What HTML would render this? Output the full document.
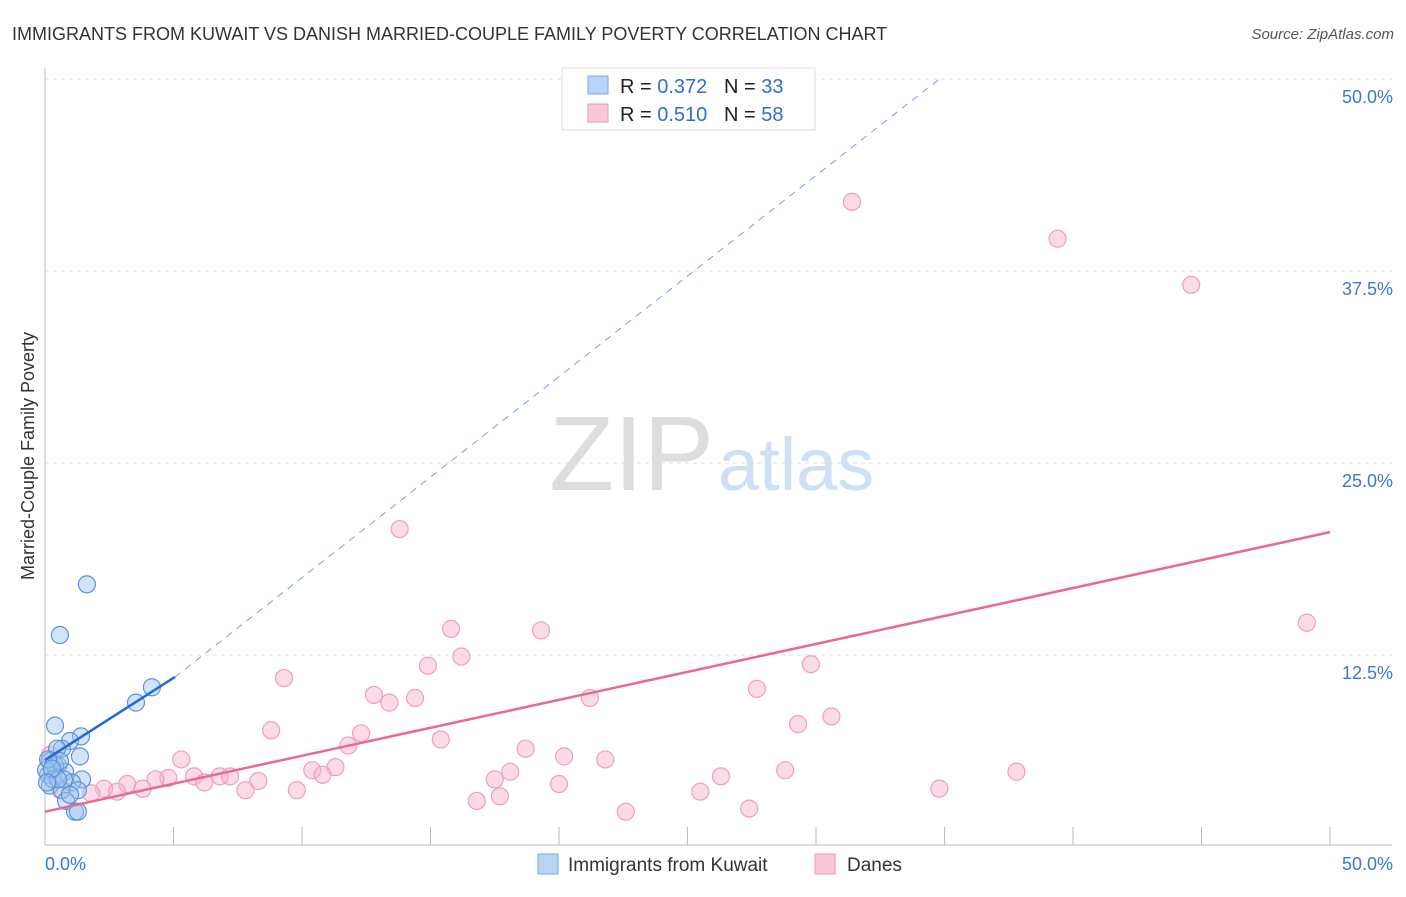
<!DOCTYPE html>
<html><head><meta charset="utf-8"><style>
body{margin:0;background:#fff;font-family:"Liberation Sans",sans-serif;}
svg text{font-family:"Liberation Sans",sans-serif;}
</style></head><body>
<svg id="chart" width="1406" height="892">
<text x="12" y="40" font-size="18" fill="#333">IMMIGRANTS FROM KUWAIT VS DANISH MARRIED-COUPLE FAMILY POVERTY CORRELATION CHART</text>
<text x="1394" y="39" font-size="15" fill="#555" text-anchor="end" font-style="italic">Source: ZipAtlas.com</text>
<text x="714" y="490" font-size="106" fill="#ddd" text-anchor="end" font-family="Liberation Serif">ZIP</text>
<text x="718" y="490" font-size="74" fill="#cfe0f5">atlas</text>
<text transform="translate(34,456) rotate(-90)" font-size="18" fill="#333" text-anchor="middle">Married-Couple Family Poverty</text>
<g id="grid"></g><g id="marks"></g>
<g>
<rect x="562" y="68" width="253" height="62" fill="#fff" stroke="#ddd"/>
<rect x="588" y="76" width="20" height="18" fill="#b8d4f7" stroke="#7aa7e0"/>
<rect x="588" y="104" width="20" height="18" fill="#fac8d6" stroke="#eb9ab2"/>
<text x="620" y="93" font-size="20" fill="#222" xml:space="preserve">R = <tspan fill="#2f6fd0">0.372</tspan>   N = <tspan fill="#2f6fd0">33</tspan></text>
<text x="620" y="121" font-size="20" fill="#222" xml:space="preserve">R = <tspan fill="#2f6fd0">0.510</tspan>   N = <tspan fill="#2f6fd0">58</tspan></text>
</g>
<g>
<rect x="538" y="854" width="20" height="20" fill="#b8d4f7" stroke="#7aa7e0"/>
<text x="568" y="871" font-size="19" fill="#333">Immigrants from Kuwait</text>
<rect x="815" y="854" width="20" height="20" fill="#fac8d6" stroke="#eb9ab2"/>
<text x="847" y="871" font-size="19" fill="#333">Danes</text>
</g>
</svg>
<script>
const blueX=[1.63,0.58,4.16,3.54,0.39,1.40,0.97,0.66,0.47,1.36,0.19,0.51,0.27,0.78,0.12,1.44,1.05,0.19,0.66,1.28,0.82,1.17,1.28,0.39,0.04,0.58,0.12,0.31,0.74,0.97,0.51,0.27,0.08];
const blueY=[17.1,13.8,10.4,9.4,7.9,7.2,6.9,6.4,6.4,5.9,5.6,5.3,5.0,4.9,4.7,4.4,4.2,4.0,3.7,3.7,3.0,2.3,2.3,5.3,5.0,5.6,5.7,4.4,4.4,3.4,4.4,5.1,4.2];
const pinkX=[31.4,39.4,44.6,49.1,13.8,15.8,19.3,16.2,14.9,9.3,29.8,27.7,12.8,13.4,14.4,21.2,8.8,12.3,11.8,30.6,29.3,15.4,18.7,20.2,21.8,5.3,10.4,11.3,10.8,18.1,17.5,26.3,28.8,37.8,4.8,4.3,5.8,6.8,7.2,6.2,8.3,3.2,20.0,2.3,2.8,3.8,1.8,9.8,7.8,34.8,25.5,16.8,17.7,22.6,27.4,0.2,0.4,0.6];
const pinkY=[42.0,39.6,36.6,14.6,20.7,14.2,14.1,12.4,11.8,11.0,11.9,10.3,9.9,9.4,9.7,9.7,7.6,7.4,6.6,8.5,8.0,7.0,6.4,5.9,5.7,5.7,5.0,5.2,4.7,4.9,4.4,4.6,5.0,4.9,4.5,4.4,4.6,4.6,4.6,4.2,4.3,4.1,4.1,3.8,3.6,3.8,3.5,3.7,3.7,3.8,3.6,3.0,3.3,2.3,2.5,6.0,5.1,3.7];
const xTicks=[0,5,10,15,20,25,30,35,40,45,50];
const yTicks=[12.5,25,37.5,50];
const yTickLabels=["12.5%","25.0%","37.5%","50.0%"];
const blueFit=[0,5.06,5.66,11.07]; // x0,x1,y0,y1 solid
const blueDash=[5.06,34.8,11.07,50];
const pinkFit=[0,50,2.3,20.5];
const sx=v=>45+v*25.7, sy=v=>847-v*15.36;
const NS="http://www.w3.org/2000/svg";
const grid=document.getElementById('grid'),marks=document.getElementById('marks');
function mk(tag,attrs,parent){const e=document.createElementNS(NS,tag);for(const k in attrs)e.setAttribute(k,attrs[k]);parent.appendChild(e);return e;}
yTicks.forEach((t,i)=>{
 const l=mk('line',{x1:45,x2:1392,y1:sy(t),y2:sy(t),stroke:'#ddd','stroke-dasharray':'4,4'},grid);
 
 
 const tx=mk('text',{x:1393,y:sy(t)+24,'font-size':18,fill:'#3a78d4','text-anchor':'end'},grid);
 tx.textContent=yTickLabels[i];
 
 
});
const ax=mk('line',{x1:45,x2:1392,y1:845,y2:845,stroke:'#bbb'},grid);


const ay=mk('line',{x1:45,x2:45,y1:68,y2:845,stroke:'#bbb'},grid);


xTicks.forEach(t=>{if(t===0)return;
 const l=mk('line',{x1:sx(t),x2:sx(t),y1:827,y2:845,stroke:'#bbb'},grid);
 
 
});
[[0,'0.0%','start',45],[50,'50.0%','end',1393]].forEach(a=>{
 const tx=mk('text',{x:a[3],y:870,'font-size':18,fill:'#3a78d4','text-anchor':a[2]},grid);tx.textContent=a[1];
 
 
});
pinkX.forEach((x,i)=>{const c=mk('circle',{cx:sx(x),cy:sy(pinkY[i]),r:8.5,fill:'rgba(247,175,198,0.45)',stroke:'#eea0b8','stroke-width':1.2},marks);
 
 });
blueX.forEach((x,i)=>{const c=mk('circle',{cx:sx(x),cy:sy(blueY[i]),r:8.5,fill:'rgba(160,196,240,0.45)',stroke:'#5b93db','stroke-width':1.2},marks);
 
 });
const pl=mk('line',{x1:sx(pinkFit[0]),x2:sx(pinkFit[1]),y1:sy(pinkFit[2]),y2:sy(pinkFit[3]),stroke:'#e8689a','stroke-width':2.5},marks);


const bd=mk('line',{x1:sx(blueDash[0]),x2:sx(blueDash[1]),y1:sy(blueDash[2]),y2:sy(blueDash[3]),stroke:'#7aa0dd','stroke-width':1,'stroke-dasharray':'7,6'},marks);


const bl=mk('line',{x1:sx(blueFit[0]),x2:sx(blueFit[1]),y1:sy(blueFit[2]),y2:sy(blueFit[3]),stroke:'#1f6bd6','stroke-width':2.5},marks);


</script>
</body></html>
